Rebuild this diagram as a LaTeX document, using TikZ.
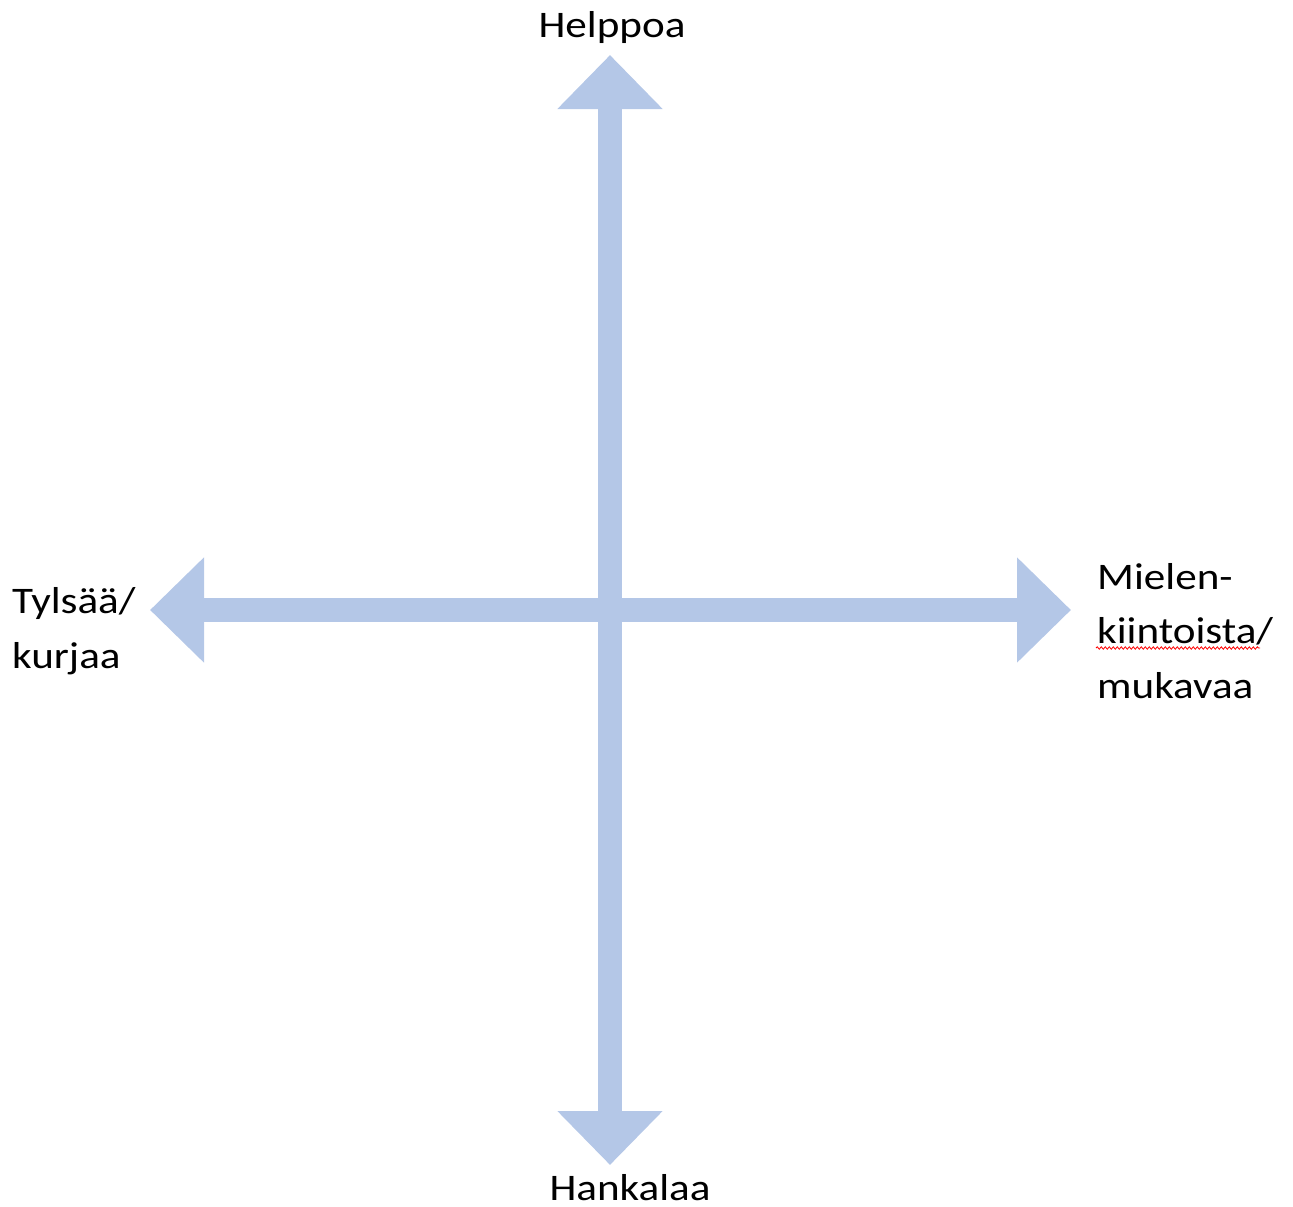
\documentclass[tikz,border=0pt]{standalone}
\usepackage{fontspec}
\usetikzlibrary{arrows.meta,decorations.pathmorphing}
\newfontfamily\labelfont[FakeStretch=1.15]{Carlito}
\definecolor{akseli}{RGB}{180,199,231}
\tikzset{
  akselinuoli/.style={draw=akseli, line width=24.6pt,
    {Triangle[width=102pt,length=54pt]}-{Triangle[width=102pt,length=54pt]}},
  teksti/.style={inner sep=0pt, align=left, font=\labelfont\fontsize{37.5}{54.5}\selectfont}
}
\begin{document}
\begin{tikzpicture}[x=1pt,y=-1pt]
    \useasboundingbox (0,0) rectangle (1293,1207);
    \coordinate (ylos) at (610,55);
    \coordinate (alas) at (610,1165);
    \coordinate (vasen) at (150,610);
    \coordinate (oikea) at (1071,610);
    \draw[akselinuoli] (alas)--(ylos);
    \draw[akselinuoli] (vasen)--(oikea);
    \node[teksti, anchor=base] (helppoa) at (612,38) {Helppoa};
    \node[teksti, anchor=base] (hankalaa) at (630,1200) {Hankalaa};
    \node[teksti, anchor=base west] (tylsaa) at (12,668) {Tylsää/\\kurjaa};
    \node[teksti, anchor=base west] (mielen) at (1097,698) {Mielen-\\kiintoista/\\mukavaa};
    \draw[red, line width=0.8pt, decorate, decoration={snake, amplitude=1.2pt, segment length=4pt}]
      (1096,648)--(1260,648);
\end{tikzpicture}
\end{document}
